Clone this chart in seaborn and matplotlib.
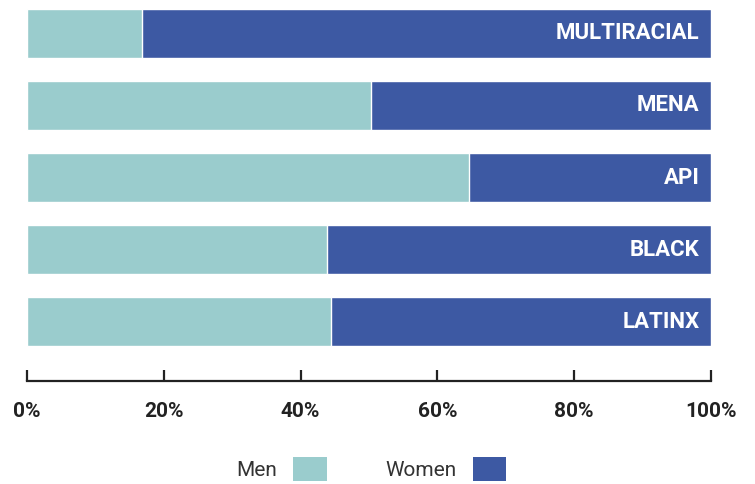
import matplotlib
matplotlib.use("Agg")
import matplotlib.pyplot as plt
import seaborn as sns
import pandas as pd
from matplotlib.patches import Patch

groups = ["MULTIRACIAL", "MENA", "API", "BLACK", "LATINX"]
men = [16.8, 50.3, 64.6, 43.9, 44.4]
women = [100 - m for m in men]
tick_vals = [0, 20, 40, 60, 80, 100]
tick_labels = ["0%", "20%", "40%", "60%", "80%", "100%"]

men_color = "#9ACCCD"
women_color = "#3D59A3"

sns.set_theme(style="white")
plt.rcParams["font.family"] = ["Roboto", "DejaVu Sans"]

df = pd.DataFrame({"group": groups, "men": men, "women": women})
df["total"] = df["men"] + df["women"]

fig = plt.figure(figsize=(7.55, 4.84), dpi=100)
ax = fig.add_axes([27/755, (484-381)/484, (711-27)/755, 372/484])

sns.barplot(data=df, y="group", x="total", color=women_color, orient="h",
            width=0.68, ax=ax, saturation=1)
sns.barplot(data=df, y="group", x="men", color=men_color, orient="h",
            width=0.68, ax=ax, saturation=1)

for i, g in enumerate(groups):
    ax.text(98.3, i, g, color="white", fontweight="bold", fontsize=16,
            ha="right", va="center")

ax.set_xlim(0, 100)
ax.set_ylim(4.826, -0.34)
ax.set_xlabel("")
ax.set_ylabel("")
ax.set_yticks([])
ax.set_xticks(tick_vals)
ax.set_xticklabels(tick_labels, fontweight="bold", fontsize=15, color="#222222")
ax.tick_params(axis="x", bottom=True, direction="in", length=8, width=1.6,
               color="#222222", pad=15)
for s in ["top", "right", "left"]:
    ax.spines[s].set_visible(False)
ax.spines["bottom"].set_color("#222222")
ax.spines["bottom"].set_linewidth(1.6)

handles = [Patch(facecolor=men_color, edgecolor="none", label="Men"),
           Patch(facecolor=women_color, edgecolor="none", label="Women")]
fig.legend(handles=handles, loc="center", bbox_to_anchor=(371/755, 1 - 469/484),
           ncol=2, frameon=False, markerfirst=False, fontsize=15,
           handlelength=1.6, handleheight=1.4, handletextpad=0.8,
           columnspacing=2.8, labelcolor="#333333")

fig.savefig("out.png", dpi=100)
